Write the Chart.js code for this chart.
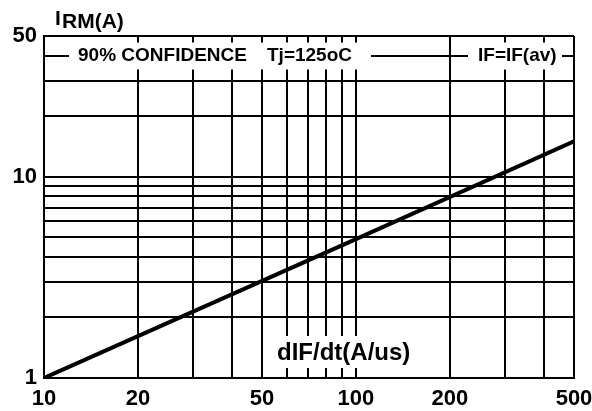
<!DOCTYPE html>
<html>
<head>
<meta charset="utf-8">
<script src="https://cdn.jsdelivr.net/npm/chart.js@4/dist/chart.umd.min.js"></script>
<style>
  html, body { margin: 0; padding: 0; background: #fff; }
  canvas { display: block; }
</style>
</head>
<body>
<canvas id="chart" width="592" height="411"></canvas>
<script>
// dIF/dt (A/us) against IRM (A), both on log axes
const slopeX = [10, 100, 500];
const irmY = [1, 4.9, 15];

// grid decades and which ticks carry a label
const xGrid = [10, 20, 30, 40, 50, 60, 70, 80, 90, 100, 200, 300, 400, 500];
const yGrid = [1, 2, 3, 4, 5, 6, 7, 8, 9, 10, 20, 30, 40, 50];
const xLabels = [10, 20, 50, 100, 200, 500];
const yLabels = [1, 10, 50];

const FONT = "'Liberation Sans', Arial, sans-serif";

const annotations = {
    id: 'annotations',
    afterDraw(chart) {
        const ctx = chart.ctx;
        const y = chart.scales.y;
        const yTop = y.getPixelForValue(40);
        ctx.save();

        // white patches behind the notes on the 40 A line and the axis title
        ctx.fillStyle = '#fff';
        ctx.fillRect(69, yTop - 13, 302, 27);
        ctx.fillRect(468, yTop - 13, 94, 27);
        ctx.fillRect(270, 336, 150, 32);

        ctx.fillStyle = '#000';
        ctx.textBaseline = 'middle';
        ctx.textAlign = 'left';
        ctx.font = 'bold 19px ' + FONT;
        ctx.fillText('90% CONFIDENCE', 78, yTop);
        ctx.fillText('Tj=125oC', 267, yTop);
        ctx.fillText('IF=IF(av)', 478, yTop);

        ctx.font = 'bold 24px ' + FONT;
        ctx.fillText('dIF/dt(A/us)', 277, 353);

        // y axis title, the I sits a little higher than RM(A)
        ctx.textBaseline = 'alphabetic';
        ctx.font = 'bold 21px ' + FONT;
        ctx.fillText('I', 55, 25);
        ctx.fillText('RM(A)', 62, 28);
        ctx.restore();
    }
};

const gridStyle = {
    color: '#000',
    lineWidth: 2,
    drawTicks: false
};

new Chart(document.getElementById('chart'), {
    type: 'line',
    data: {
        datasets: [{
            data: slopeX.map((v, i) => ({ x: v, y: irmY[i] })),
            borderColor: '#000',
            borderWidth: 4,
            pointRadius: 0,
            tension: 0
        }]
    },
    options: {
        responsive: false,
        animation: false,
        layout: { padding: { top: 36, right: 18, left: 0, bottom: 0 } },
        plugins: { legend: { display: false }, tooltip: { enabled: false } },
        scales: {
            x: {
                type: 'logarithmic',
                min: 10,
                max: 500,
                bounds: 'data',
                grid: gridStyle,
                border: { color: '#000', width: 2 },
                ticks: {
                    autoSkip: false,
                    maxRotation: 0,
                    padding: 8,
                    color: '#000',
                    font: { family: FONT, size: 22, weight: 'bold' },
                    callback: (v) => xLabels.includes(v) ? String(v) : ''
                },
                afterBuildTicks: (s) => { s.ticks = xGrid.map(v => ({ value: v })); },
                afterFit: (s) => { s.height = 33; s.paddingLeft = 0; s.paddingRight = 0; }
            },
            y: {
                type: 'logarithmic',
                min: 1,
                max: 50,
                bounds: 'data',
                grid: gridStyle,
                border: { color: '#000', width: 2 },
                ticks: {
                    autoSkip: false,
                    padding: 7,
                    color: '#000',
                    font: { family: FONT, size: 22, weight: 'bold' },
                    callback: (v) => yLabels.includes(v) ? String(v) : ''
                },
                afterBuildTicks: (s) => { s.ticks = yGrid.map(v => ({ value: v })); },
                afterFit: (s) => { s.width = 44; s.paddingTop = 0; s.paddingBottom = 0; }
            }
        }
    },
    plugins: [annotations]
});
</script>
</body>
</html>
